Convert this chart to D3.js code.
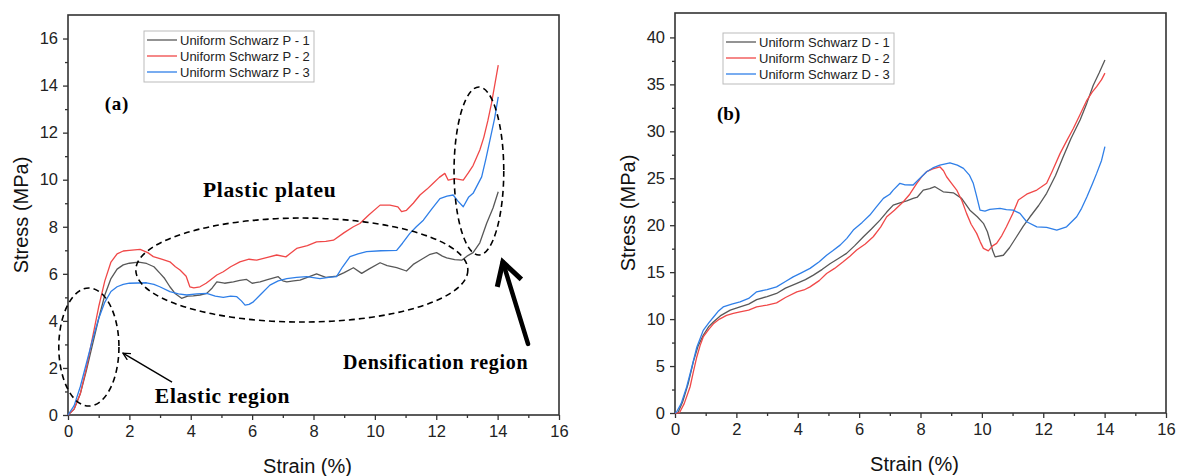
<!DOCTYPE html>
<html>
<head>
<meta charset="utf-8">
<script src="https://cdn.jsdelivr.net/npm/d3@7"></script>
<style>
    body { margin: 0; background: #fff; }
    .tick text { font-family: "Liberation Sans", Arial, sans-serif; font-size: 16.5px; fill: #222; }
    .axisTitle { font-family: "Liberation Sans", Arial, sans-serif; font-size: 20px; fill: #111; }
    .legendText { font-family: "Liberation Sans", Arial, sans-serif; font-size: 13px; fill: #222; }
    .note { font-family: "Liberation Serif", "Times New Roman", serif; font-weight: bold; fill: #000; }
</style>
</head>
<body>
<script>
"use strict";

// ---- data: [strain %, stress MPa] ----

// (a) Uniform Schwarz P
var schwarzP1 = [[0,0],[0.2,0.25],[0.4,0.9],[0.6,1.9],[0.8,3.0],[1.0,4.1],[1.2,5.1],[1.4,5.8],[1.6,6.2],[1.8,6.38],[2.0,6.45],[2.3,6.5],[2.56,6.44],[2.8,6.3],[3.0,6.02],[3.15,5.8],[3.32,5.45],[3.5,5.15],[3.7,4.96],[3.9,5.05],[4.08,5.06],[4.3,5.1],[4.52,5.17],[4.7,5.4],[4.85,5.66],[5.1,5.6],[5.39,5.66],[5.6,5.72],[5.82,5.76],[6.0,5.6],[6.26,5.66],[6.5,5.75],[6.85,5.88],[7.0,5.7],[7.13,5.66],[7.35,5.7],[7.56,5.73],[7.8,5.85],[8.1,6.0],[8.4,5.85],[8.75,5.9],[9.0,6.05],[9.3,6.26],[9.57,6.02],[9.8,6.2],[10.17,6.47],[10.4,6.35],[10.71,6.26],[11.03,6.12],[11.25,6.4],[11.5,6.6],[11.8,6.83],[12.01,6.9],[12.2,6.75],[12.34,6.68],[12.6,6.6],[12.83,6.58],[13.0,6.75],[13.2,6.9],[13.42,7.32],[13.64,8.14],[13.85,8.8],[14.02,9.49]];
var schwarzP2 = [[0,0],[0.2,0.25],[0.4,0.9],[0.6,2.0],[0.8,3.3],[1.0,4.6],[1.2,5.7],[1.4,6.5],[1.6,6.85],[1.8,6.97],[2.0,7.0],[2.35,7.04],[2.6,6.9],[2.78,6.73],[3.05,6.62],[3.32,6.51],[3.5,6.3],[3.65,6.16],[3.85,5.9],[3.97,5.45],[4.1,5.4],[4.3,5.45],[4.5,5.6],[4.63,5.73],[4.85,5.95],[5.06,6.09],[5.3,6.3],[5.6,6.51],[5.9,6.62],[6.15,6.58],[6.5,6.7],[6.8,6.8],[7.1,6.72],[7.45,7.08],[7.8,7.2],[8.1,7.36],[8.4,7.38],[8.65,7.43],[9.0,7.75],[9.3,8.0],[9.51,8.14],[9.8,8.5],[10.17,8.92],[10.49,8.92],[10.75,8.85],[10.87,8.64],[11.03,8.7],[11.25,9.0],[11.47,9.35],[11.7,9.6],[11.9,9.85],[12.1,10.1],[12.28,10.27],[12.39,9.98],[12.6,10.05],[12.88,9.98],[13.05,10.3],[13.2,10.6],[13.42,11.26],[13.55,11.8],[13.68,12.5],[13.8,13.24],[14.02,14.87]];
var schwarzP3 = [[0,0],[0.2,0.4],[0.4,1.2],[0.6,2.2],[0.8,3.2],[1.0,4.1],[1.2,4.8],[1.4,5.25],[1.6,5.45],[1.8,5.55],[2.0,5.6],[2.56,5.62],[2.8,5.55],[2.99,5.45],[3.32,5.24],[3.6,5.15],[3.87,5.1],[4.2,5.15],[4.52,5.17],[4.8,5.05],[5.06,5.0],[5.3,5.05],[5.5,5.03],[5.65,4.85],[5.77,4.67],[5.9,4.7],[6.04,4.81],[6.3,5.15],[6.58,5.52],[6.85,5.7],[7.13,5.8],[7.45,5.85],[7.78,5.88],[8.21,5.8],[8.5,5.85],[8.75,5.88],[8.95,6.3],[9.19,6.73],[9.45,6.85],[9.73,6.94],[10.2,6.98],[10.71,7.0],[10.9,7.3],[11.14,7.72],[11.35,8.0],[11.58,8.28],[11.85,8.75],[12.12,9.2],[12.35,9.3],[12.55,9.35],[12.7,9.1],[12.88,8.85],[13.05,9.25],[13.2,9.42],[13.48,10.12],[13.62,10.9],[13.75,11.68],[13.9,12.6],[14.02,13.52]];

// (b) Uniform Schwarz D
var schwarzD1 = [[0,0],[0.1,0.05],[0.25,1.2],[0.43,3.13],[0.6,5.5],[0.75,7.1],[0.92,8.28],[1.1,9.2],[1.25,9.7],[1.5,10.4],[1.8,10.95],[2.12,11.3],[2.4,11.6],[2.66,12.08],[3.0,12.4],[3.31,12.73],[3.6,13.3],[3.97,13.8],[4.25,14.2],[4.51,14.68],[4.8,15.3],[5.05,15.9],[5.3,16.4],[5.59,17.0],[5.85,17.8],[6.14,18.77],[6.4,19.6],[6.68,20.54],[6.9,21.4],[7.11,22.14],[7.33,22.39],[7.55,22.6],[7.76,22.86],[7.9,23.0],[8.09,23.74],[8.3,23.9],[8.47,24.1],[8.74,23.56],[9.07,23.45],[9.34,22.86],[9.61,21.6],[9.85,20.9],[10.05,20.2],[10.18,19.3],[10.26,18.4],[10.35,17.3],[10.43,16.63],[10.7,16.8],[10.9,17.6],[11.13,18.77],[11.35,19.9],[11.57,20.9],[11.85,22.1],[12.11,23.4],[12.4,25.3],[12.65,27.3],[12.9,29.2],[13.2,31.2],[13.42,33.0],[13.63,34.9],[13.82,36.2],[14.01,37.6]];
var schwarzD2 = [[0,0],[0.15,0.05],[0.3,1.0],[0.49,2.77],[0.6,4.4],[0.71,5.97],[0.82,7.2],[0.92,8.1],[1.1,8.9],[1.25,9.5],[1.45,10.0],[1.68,10.4],[1.9,10.6],[2.12,10.77],[2.4,10.95],[2.66,11.3],[3.0,11.5],[3.31,11.73],[3.6,12.3],[3.97,12.9],[4.2,13.1],[4.4,13.43],[4.7,14.1],[4.94,14.86],[5.2,15.4],[5.48,16.1],[5.7,16.7],[5.92,17.35],[6.2,18.0],[6.46,18.77],[6.7,19.8],[6.9,20.9],[7.15,21.6],[7.44,22.5],[7.65,23.3],[7.88,24.46],[8.05,25.2],[8.2,25.7],[8.4,26.0],[8.63,26.22],[8.75,25.8],[8.85,25.16],[9.0,24.5],[9.18,23.74],[9.35,22.6],[9.5,21.26],[9.65,20.1],[9.83,19.13],[9.95,18.2],[10.05,17.53],[10.21,17.27],[10.35,17.8],[10.48,18.06],[10.65,18.9],[10.8,19.83],[11.0,21.2],[11.19,22.68],[11.46,23.3],[11.79,23.74],[12.11,24.46],[12.3,25.8],[12.55,27.65],[12.75,28.9],[12.98,30.3],[13.2,31.8],[13.42,33.3],[13.6,34.2],[13.74,34.75],[13.9,35.5],[14.01,36.2]];
var schwarzD3 = [[0,0],[0.05,0.1],[0.2,1.0],[0.38,2.77],[0.55,4.9],[0.71,7.0],[0.92,8.8],[1.1,9.6],[1.25,10.2],[1.4,10.8],[1.57,11.3],[1.85,11.6],[2.12,11.83],[2.4,12.2],[2.66,12.9],[3.0,13.15],[3.31,13.43],[3.6,14.0],[3.85,14.5],[4.1,14.9],[4.4,15.4],[4.7,16.1],[4.94,16.8],[5.15,17.3],[5.38,17.88],[5.6,18.6],[5.81,19.48],[6.1,20.3],[6.35,21.08],[6.55,21.9],[6.79,22.86],[7.0,23.3],[7.11,23.74],[7.33,24.46],[7.5,24.3],[7.76,24.28],[7.95,24.9],[8.2,25.7],[8.4,26.1],[8.63,26.4],[8.96,26.65],[9.2,26.4],[9.4,26.05],[9.6,25.3],[9.72,24.46],[9.82,23.2],[9.94,21.6],[10.1,21.5],[10.26,21.68],[10.59,21.79],[10.8,21.65],[11.02,21.6],[11.24,21.26],[11.46,20.37],[11.79,19.83],[12.11,19.76],[12.44,19.48],[12.76,19.83],[13.09,20.9],[13.25,21.8],[13.42,23.0],[13.6,24.4],[13.74,25.52],[13.9,26.9],[14.01,28.36]];

var namesP = ["Uniform Schwarz P - 1", "Uniform Schwarz P - 2", "Uniform Schwarz P - 3"];
var namesD = ["Uniform Schwarz D - 1", "Uniform Schwarz D - 2", "Uniform Schwarz D - 3"];
var seriesColors = ["#585858", "#f04848", "#2f7fe8"];

var strainTicks = [0, 2, 4, 6, 8, 10, 12, 14, 16];
var stressTicksP = [0, 2, 4, 6, 8, 10, 12, 14, 16];
var stressTicksD = [0, 5, 10, 15, 20, 25, 30, 35, 40];

var svg = d3.select("body").append("svg")
            .attr("width", 1180)
            .attr("height", 476);

// draws one framed panel and returns its scales
var drawPanel = function(opt)
{
    var W = 491, H = 400;

    var g = svg.append("g")
               .attr("transform", "translate(" + opt.left + "," + opt.top + ")");

    var x = d3.scaleLinear().domain([0, 16]).range([0, W]);
    var y = d3.scaleLinear().domain([0, opt.yMax]).range([H, 0]);

    // minor ticks first, then the labelled axes over them
    g.append("g")
     .attr("transform", "translate(0," + H + ")")
     .call(d3.axisBottom(x).tickValues(d3.range(1, 16, 2)).tickSize(3).tickFormat(""));
    g.append("g")
     .call(d3.axisLeft(y).tickValues(opt.yMinor).tickSize(3).tickFormat(""));

    g.append("g")
     .attr("transform", "translate(0," + H + ")")
     .call(d3.axisBottom(x).tickValues(strainTicks).tickSize(5).tickPadding(5).tickFormat(d3.format("d")));
    g.append("g")
     .call(d3.axisLeft(y).tickValues(opt.yTicks).tickSize(5).tickPadding(5).tickFormat(d3.format("d")));

    g.selectAll(".domain").remove();
    g.selectAll(".tick line").attr("stroke", "#333").attr("stroke-width", 1.3);

    // box frame
    g.append("rect")
     .attr("width", W).attr("height", H)
     .attr("fill", "none")
     .attr("stroke", "#333")
     .attr("stroke-width", 1.6);

    var line = d3.line()
                 .x(function(d) { return x(d[0]); })
                 .y(function(d) { return y(d[1]); })
                 .curve(d3.curveLinear);

    g.append("g")
     .selectAll("path.series")
     .data(opt.series)
     .enter()
     .append("path")
     .attr("class", "series")
     .attr("d", line)
     .attr("fill", "none")
     .attr("stroke", function(d, i) { return seriesColors[i]; })
     .attr("stroke-width", 1.3)
     .attr("stroke-linejoin", "round");

    // axis titles
    g.append("text")
     .attr("class", "axisTitle")
     .attr("text-anchor", "middle")
     .attr("x", W / 2 - 6)
     .attr("y", H + 58)
     .text("Strain (%)");

    g.append("text")
     .attr("class", "axisTitle")
     .attr("text-anchor", "middle")
     .attr("transform", "translate(" + (-40) + "," + (H / 2) + ") rotate(-90)")
     .text("Stress (MPa)");

    // legend
    var lg = g.append("g").attr("transform", "translate(" + opt.legendX + "," + opt.legendY + ")");
    lg.append("rect")
      .attr("width", opt.legendW).attr("height", 51)
      .attr("fill", "#fff")
      .attr("stroke", "#bbb")
      .attr("stroke-width", 1);
    var rows = lg.selectAll("g.row")
                 .data(opt.names)
                 .enter()
                 .append("g")
                 .attr("class", "row")
                 .attr("transform", function(d, i) { return "translate(0," + (9 + i * 16) + ")"; });
    rows.append("line")
        .attr("x1", 3).attr("x2", 33)
        .attr("stroke", function(d, i) { return seriesColors[i]; })
        .attr("stroke-width", 1.3);
    rows.append("text")
        .attr("class", "legendText")
        .attr("x", 36)
        .attr("dy", "0.35em")
        .text(function(d) { return d; });

    return { g: g, x: x, y: y };
};

var panelA = drawPanel({
    left: 68, top: 15, yMax: 17,
    yTicks: stressTicksP, yMinor: d3.range(1, 17, 2),
    series: [schwarzP1, schwarzP2, schwarzP3],
    names: namesP, legendX: 76, legendY: 16, legendW: 170
});

var panelB = drawPanel({
    left: 675, top: 13, yMax: 42.6,
    yTicks: stressTicksD, yMinor: d3.range(2.5, 42.5, 5),
    series: [schwarzD1, schwarzD2, schwarzD3],
    names: namesD, legendX: 48, legendY: 20, legendW: 171
});

// ---- annotations on panel (a) ----
var ga = panelA.g, xa = panelA.x, ya = panelA.y;

svg.append("defs").html(
    '<marker id="openHead" viewBox="0 0 10 10" refX="9" refY="5" markerWidth="9" markerHeight="9" orient="auto" markerUnits="userSpaceOnUse">' +
    '<path d="M1,1 L9,5 L1,9" fill="none" stroke="#000" stroke-width="1.4"/></marker>' +
    '<marker id="thickHead" viewBox="0 0 10 10" refX="8" refY="5" markerWidth="7" markerHeight="7" orient="auto">' +
    '<path d="M1,1 L8,5 L1,9" fill="none" stroke="#000" stroke-width="1.6"/></marker>');

var ellipses = [
    { cx: 7.62, cy: 6.16, rx: 5.41, ry: 2.21 },
    { cx: 0.68, cy: 2.89, rx: 0.98, ry: 2.51 },
    { cx: 13.39, cy: 10.37, rx: 0.81, ry: 3.57 }
];
ga.selectAll("ellipse.region")
  .data(ellipses)
  .enter()
  .append("ellipse")
  .attr("class", "region")
  .attr("cx", function(d) { return xa(d.cx); })
  .attr("cy", function(d) { return ya(d.cy); })
  .attr("rx", function(d) { return xa(d.rx) - xa(0); })
  .attr("ry", function(d) { return ya(0) - ya(d.ry); })
  .attr("fill", "none")
  .attr("stroke", "#000")
  .attr("stroke-width", 1.6)
  .attr("stroke-dasharray", "6,4");

// thin arrow to elastic region
ga.append("line")
  .attr("x1", xa(3.39)).attr("y1", ya(1.4))
  .attr("x2", xa(1.79)).attr("y2", ya(2.63))
  .attr("stroke", "#000").attr("stroke-width", 1.4)
  .attr("marker-end", "url(#openHead)");

// thick arrow to densification region
ga.append("line")
  .attr("x1", xa(14.99)).attr("y1", ya(3.02))
  .attr("x2", xa(14.17)).attr("y2", ya(6.5))
  .attr("stroke", "#000").attr("stroke-width", 4.5)
  .attr("stroke-linecap", "round")
  .attr("marker-end", "url(#thickHead)");

var notesA = [
    { t: "(a)", x: 1.2, y: 12.96, size: 19 },
    { t: "Plastic plateu", x: 4.4, y: 9.26, size: 21.5 },
    { t: "Elastic region", x: 2.83, y: 0.51, size: 21.5 },
    { t: "Densification region", x: 8.96, y: 1.95, size: 20 }
];
ga.selectAll("text.note")
  .data(notesA)
  .enter()
  .append("text")
  .attr("class", "note")
  .attr("x", function(d) { return xa(d.x); })
  .attr("y", function(d) { return ya(d.y); })
  .style("font-size", function(d) { return d.size + "px"; })
  .style("letter-spacing", "0.7px")
  .text(function(d) { return d.t; });

// ---- panel (b) label ----
panelB.g.append("text")
  .attr("class", "note")
  .attr("x", panelB.x(1.37))
  .attr("y", panelB.y(31.2))
  .style("font-size", "19px")
  .text("(b)");
</script>
</body>
</html>
